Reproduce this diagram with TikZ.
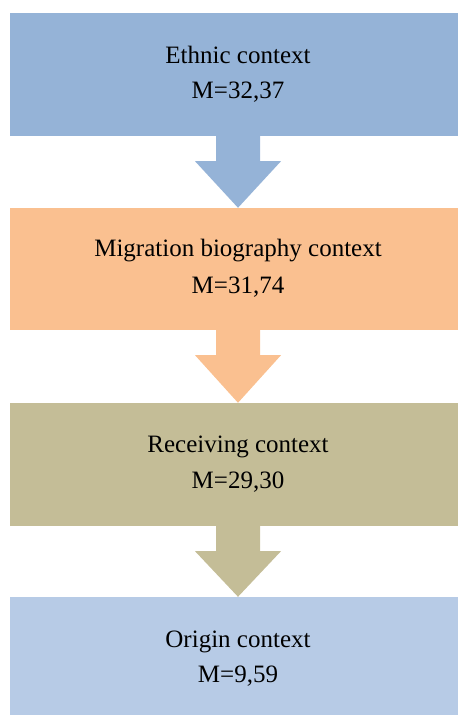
\documentclass[tikz,border=0pt]{standalone}
\usepackage{fontspec}
\setmainfont{Liberation Serif}
\usetikzlibrary{calc}
\definecolor{ethnicblue}{HTML}{95B3D7}
\definecolor{migpeach}{HTML}{FAC090}
\definecolor{recvolive}{HTML}{C4BD97}
\definecolor{originblue}{HTML}{B7CBE6}
\tikzset{
  box/.style={rectangle, draw=none, inner sep=0pt, minimum width=448pt},
  label/.style={anchor=base, inner sep=0pt, font=\fontsize{25}{30}\selectfont},
}
% downward block arrow between two boxes: #1 colour, #2 upper box, #3 lower box
\newcommand{\blockarrow}[3]{%
  \fill[#1] ($(#2.south -| ax)+(-22,0)$) -- ++(0,-25) -- ++(-21,0)
    -- (#3.north -| ax) -- ($(#2.south -| ax)+(43,-25)$) -- ++(-21,0)
    -- ++(0,25) -- cycle;}
\begin{document}
\begin{tikzpicture}[x=1pt,y=1pt]
\useasboundingbox (0,0) rectangle (458,715);
\coordinate (ax) at (238,0);

% context boxes
\node[box, fill=ethnicblue, minimum height=123pt] (b1) at (234,640.5) {};
\node[box, fill=migpeach,   minimum height=122pt] (b2) at (234,446) {};
\node[box, fill=recvolive,  minimum height=123pt] (b3) at (234,250.5) {};
\node[box, fill=originblue, minimum height=118pt] (b4) at (234,59) {};

% arrows between the boxes
\blockarrow{ethnicblue}{b1}{b2}
\blockarrow{migpeach}{b2}{b3}
\blockarrow{recvolive}{b3}{b4}

% box texts
\node[label] (t1a) at (238,651) {Ethnic context};
\node[label] (t1b) at (238,616) {M=32,37};
\node[label] (t2a) at (238,458) {Migration biography context};
\node[label] (t2b) at (238,421) {M=31,74};
\node[label] (t3a) at (238,262) {Receiving context};
\node[label] (t3b) at (238,226) {M=29,30};
\node[label] (t4a) at (238,67) {Origin context};
\node[label] (t4b) at (238,32) {M=9,59};
\end{tikzpicture}
\end{document}
